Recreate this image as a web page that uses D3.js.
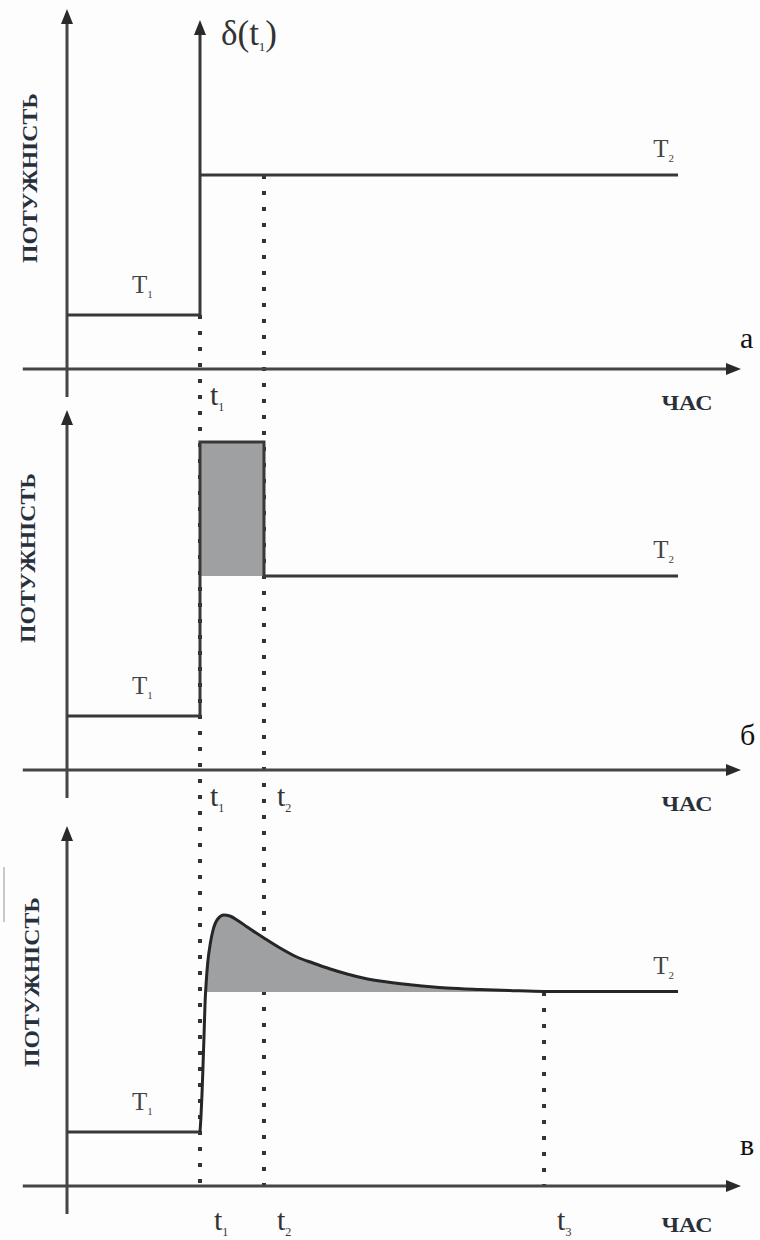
<!DOCTYPE html>
<html>
<head>
<meta charset="utf-8">
<script src="https://cdn.jsdelivr.net/npm/d3@7"></script>
<style>
  html, body { margin: 0; padding: 0; background: #fdfdfd; }
  svg { display: block; }
</style>
</head>
<body>
<div id="chart"></div>
<script>
// ---------- data (time in arbitrary units, power in arbitrary units) ----------
const panelLetters = ["а", "б", "в"];
const markerNames = ["t", "t", "t"];
const markerSubs = ["1", "2", "3"];
const markerTimes = [1.985, 2.94, 7.12];
const levelNames = ["T", "T"];
const levelSubs = ["1", "2"];
const levelValues = [5.4, 19.4];          // power levels T1, T2
const stepEnd = 9.12;                      // end of the T2 level line
const deltaTop = 34.9;                     // height of delta impulse arrow (panel а)
const pulseTop = 32.8;                     // height of the rectangular pulse (panel б)
const axisTimeRange = [-0.66, 10.06];
const axisPowerRange = [-2.8, 36.0];
// panel в: transient response after t1
const curveTime  = [1.985, 2.0, 2.015, 2.03, 2.045, 2.06, 2.08, 2.10, 2.14, 2.18, 2.25, 2.34, 2.43, 2.56, 2.69, 2.94, 3.18, 3.43, 3.67, 3.93, 4.18, 4.42, 4.67, 5.16, 5.67, 6.16, 6.6, 7.12, 9.12];
const curvePower = [5.4, 7.0, 9.2, 12.0, 15.0, 18.2, 20.6, 22.3, 24.3, 25.6, 26.7, 27.1, 27.0, 26.5, 25.9, 24.8, 23.8, 22.9, 22.3, 21.7, 21.2, 20.8, 20.5, 20.1, 19.8, 19.65, 19.55, 19.45, 19.45];

// ---------- layout ----------
const W = 760, H = 1240;
const panelAxisY = [369, 770, 1186];       // pixel row of each time axis
const unitPx = 10;                         // px per power unit
const svg = d3.select("#chart").append("svg").attr("width", W).attr("height", H);
svg.append("rect").attr("width", W).attr("height", H).attr("fill", "#fdfdfd");

const x = d3.scaleLinear().domain([0, 10]).range([67, 737]);
const ys = panelAxisY.map(a => d3.scaleLinear().domain([0, 36]).range([a, a - 36 * unitPx]));

const AX = "#454545", LN = "#383838", FILL = "#9fa0a2";
const serif = "'Liberation Serif', 'Times New Roman', 'DejaVu Serif', serif";

const line = (pts, y) => d3.line().x(d => x(d[0])).y(d => y(d[1]))(pts);

// faint scan artefact at the left of panel в
svg.append("line").attr("x1", 4).attr("x2", 4).attr("y1", 867).attr("y2", 922)
  .attr("stroke", "#c8c8c8").attr("stroke-width", 2);

// ---------- dotted guide lines (drawn first, below solid lines) ----------
const dotted = g => g.attr("stroke", "#333").attr("stroke-width", 4)
  .attr("stroke-dasharray", "4,12").attr("fill", "none");
svg.append("line").call(dotted)
  .attr("x1", x(markerTimes[0])).attr("x2", x(markerTimes[0]))
  .attr("y1", ys[0](levelValues[0])).attr("y2", ys[2](0));
svg.append("line").call(dotted)
  .attr("x1", x(markerTimes[1])).attr("x2", x(markerTimes[1]))
  .attr("y1", ys[0](levelValues[1])).attr("y2", ys[2](-1.2));
svg.append("line").call(dotted)
  .attr("x1", x(markerTimes[2])).attr("x2", x(markerTimes[2]))
  .attr("y1", ys[2](levelValues[1])).attr("y2", ys[2](0));

// ---------- axes for each panel ----------
ys.forEach((y, i) => {
  const g = svg.append("g");
  g.append("line").attr("x1", x(axisTimeRange[0])).attr("x2", x(axisTimeRange[1]) - 10)
    .attr("y1", y(0)).attr("y2", y(0)).attr("stroke", AX).attr("stroke-width", 3);
  g.append("path").attr("fill", "#2a2a2a")
    .attr("d", `M${x(axisTimeRange[1])},${y(0)} L${x(axisTimeRange[1]) - 15},${y(0) - 6} L${x(axisTimeRange[1]) - 15},${y(0) + 6} Z`);
  g.append("line").attr("x1", x(0)).attr("x2", x(0))
    .attr("y1", y(axisPowerRange[0])).attr("y2", y(axisPowerRange[1]) + 10)
    .attr("stroke", AX).attr("stroke-width", 3);
  g.append("path").attr("fill", "#2a2a2a")
    .attr("d", `M${x(0)},${y(axisPowerRange[1])} L${x(0) - 6},${y(axisPowerRange[1]) + 15} L${x(0) + 6},${y(axisPowerRange[1]) + 15} Z`);
});

// ---------- panel а: step with delta impulse ----------
{
  const y = ys[0];
  const t1 = markerTimes[0];
  svg.append("path").attr("fill", "none").attr("stroke", LN).attr("stroke-width", 3)
    .attr("d", line([[0, levelValues[0]], [t1, levelValues[0]], [t1, deltaTop - 1.2]], y));
  svg.append("path").attr("fill", "#2a2a2a")
    .attr("d", `M${x(t1)},${y(deltaTop)} L${x(t1) - 6},${y(deltaTop) + 15} L${x(t1) + 6},${y(deltaTop) + 15} Z`);
  svg.append("path").attr("fill", "none").attr("stroke", LN).attr("stroke-width", 3)
    .attr("d", line([[t1, levelValues[1]], [stepEnd, levelValues[1]]], y));
  const dl = svg.append("text").attr("x", x(t1) + 21).attr("y", y(deltaTop) + 25)
    .attr("font-family", serif).attr("font-size", 35).attr("fill", "#333");
  dl.append("tspan").text("δ(t");
  dl.append("tspan").text("1").attr("font-size", 13).attr("dy", 6);
  dl.append("tspan").text(")").attr("dy", -6);
}

// ---------- panel б: rectangular pulse ----------
{
  const y = ys[1];
  const [t1, t2] = markerTimes;
  svg.append("rect").attr("x", x(t1)).attr("y", y(pulseTop))
    .attr("width", x(t2) - x(t1)).attr("height", y(levelValues[1]) - y(pulseTop))
    .attr("fill", FILL);
  svg.append("path").attr("fill", "none").attr("stroke", LN).attr("stroke-width", 3)
    .attr("stroke-linejoin", "miter")
    .attr("d", line([[0, levelValues[0]], [t1, levelValues[0]], [t1, pulseTop], [t2, pulseTop],
                     [t2, levelValues[1]], [stepEnd, levelValues[1]]], y));
}

// ---------- panel в: transient curve ----------
{
  const y = ys[2];
  const pts = curveTime.map((t, i) => [t, curvePower[i]]);
  const fillPts = pts.filter(d => d[1] >= levelValues[1] - 0.01 && d[0] <= 6.6);
  svg.append("path").attr("fill", FILL)
    .attr("d", d3.area().x(d => x(d[0])).y0(y(levelValues[1])).y1(d => y(d[1]))
      .curve(d3.curveMonotoneX)(fillPts));
  svg.append("path").attr("fill", "none").attr("stroke", LN).attr("stroke-width", 3)
    .attr("d", line([[0, levelValues[0]], [markerTimes[0], levelValues[0]]], y));
  svg.append("path").attr("fill", "none").attr("stroke", "#262626").attr("stroke-width", 3)
    .attr("d", d3.line().x(d => x(d[0])).y(d => y(d[1])).curve(d3.curveMonotoneX)(pts));
}

// ---------- labels ----------
const sub = (sel, main, s, fs, sfs) => {
  sel.append("tspan").text(main).attr("font-size", fs);
  sel.append("tspan").text(s).attr("font-size", sfs).attr("dy", fs * 0.2);
};

const yLabelCenters = [178, 558, 982];
const yLabelX = [30, 28, 32];
const letterOffset = [21, 25, 31];
ys.forEach((y, i) => {
  svg.append("text")
    .attr("transform", `translate(${yLabelX[i] + 7},${yLabelCenters[i]}) rotate(-90)`)
    .attr("text-anchor", "middle").attr("font-family", serif).attr("font-weight", "bold")
    .attr("font-size", 21).attr("fill", "#28303c")
    .attr("textLength", 170).attr("lengthAdjust", "spacingAndGlyphs")
    .text("ПОТУЖНІСТЬ");
  svg.append("text").attr("x", 687).attr("y", y(0) + (i === 2 ? 46 : 41))
    .attr("text-anchor", "middle").attr("font-family", serif).attr("font-weight", "bold")
    .attr("font-size", 20).attr("fill", "#2a303a")
    .attr("textLength", 51).attr("lengthAdjust", "spacingAndGlyphs").text("ЧАС");
  svg.append("text").attr("x", 740).attr("y", y(0) - letterOffset[i])
    .attr("font-family", serif).attr("font-size", i === 2 ? 30 : 30).attr("fill", "#111")
    .text(panelLetters[i]);
  const t1l = svg.append("text").attr("x", x(0.97)).attr("y", y(levelValues[0]) - 22)
    .attr("font-family", serif).attr("fill", "#444");
  sub(t1l, levelNames[0], levelSubs[0], 25, 11);
  const t2l = svg.append("text").attr("x", x(8.75)).attr("y", y(levelValues[1]) - 18)
    .attr("font-family", serif).attr("fill", "#444");
  sub(t2l, levelNames[1], levelSubs[1], 25, 11);
});

const markerLabelPanels = [[0, 1, 2], [1, 2], [2]];
const markerDx = [10, 13, 13];
markerTimes.forEach((t, k) => {
  markerLabelPanels[k].forEach(p => {
    const y = ys[p];
    const lbl = svg.append("text").attr("x", x(t) + markerDx[k] + (p === 2 && k === 0 ? 4 : 0))
      .attr("y", y(0) + (p === 2 ? 44 : 36))
      .attr("font-family", serif).attr("fill", "#333");
    sub(lbl, markerNames[k], markerSubs[k], 30, 12);
  });
});
</script>
</body>
</html>
